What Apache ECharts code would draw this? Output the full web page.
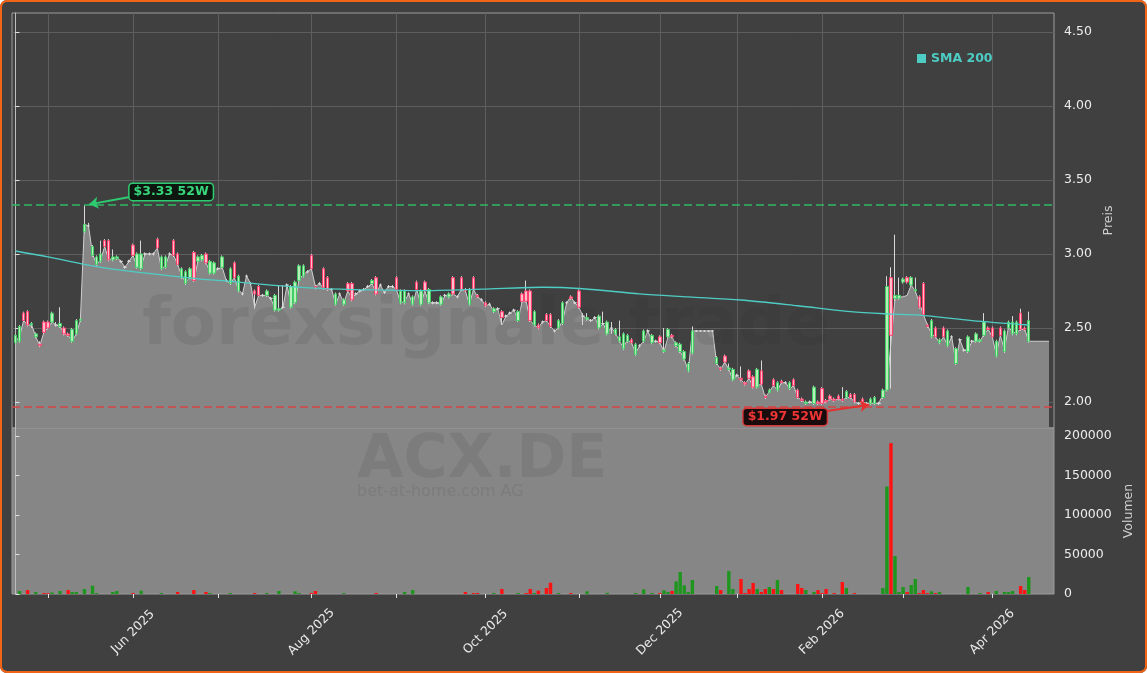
<!DOCTYPE html>
<html><head><meta charset="utf-8">
<script src="https://cdn.jsdelivr.net/npm/echarts@6/dist/echarts.min.js"></script>
<style>
html,body{margin:0;padding:0;background:#ffffff;}
#wrap{position:relative;width:1147px;height:673px;background:#404040;border-radius:7px;box-shadow:inset 0 0 0 2px #f26418;overflow:hidden}
#chart{position:absolute;left:0;top:0;width:1147px;height:673px;}
</style></head><body>
<div id="wrap"><div id="chart"></div></div>
<script>
// ---- tick positions (trading-day index) and labels ----
const MONTH_TICKS = [8,29,50,73,94,116,139,159,178,199,219,241];
const LABEL_TICKS = [29,73,116,159,199,241];
const LABELS = ['Jun 2025','Aug 2025','Oct 2025','Dec 2025','Feb 2026','Apr 2026'];
const PRICE_TICKS = [2.0,2.5,3.0,3.5,4.0,4.5];
const VOLUME_TICKS = [0,50000,100000,150000,200000];
const HIGH_52W = 3.33;
const LOW_52W = 1.97;

// ---- daily OHLC ----
const OPEN = [
2.40,2.41,2.60,2.61,2.52,2.44,2.39,2.54,2.54,2.54,
2.52,2.51,2.50,2.46,2.41,2.46,2.55,3.15,3.19,2.99,
2.93,2.95,3.09,3.09,2.96,2.97,2.95,2.91,2.95,3.06,
2.91,2.90,3.00,3.00,3.00,3.10,2.90,2.91,3.00,3.09,
3.00,2.84,2.80,2.84,3.01,2.95,2.96,3.00,2.87,2.87,
2.90,2.91,2.82,2.80,2.94,2.75,2.73,2.85,2.80,2.75,
2.78,2.72,2.72,2.70,2.62,2.62,2.64,2.79,2.64,2.67,
2.82,2.85,2.88,2.99,2.78,2.80,2.90,2.84,2.76,2.66,
2.73,2.66,2.80,2.80,2.73,2.75,2.76,2.78,2.80,2.84,
2.79,2.74,2.78,2.78,2.84,2.67,2.67,2.73,2.66,2.81,
2.66,2.81,2.67,2.67,2.67,2.66,2.72,2.71,2.84,2.71,
2.84,2.76,2.66,2.84,2.72,2.69,2.67,2.66,2.61,2.63,
2.61,2.58,2.60,2.62,2.55,2.73,2.75,2.75,2.52,2.52,
2.54,2.59,2.59,2.48,2.50,2.53,2.67,2.71,2.67,2.75,
2.58,2.56,2.55,2.57,2.50,2.53,2.46,2.50,2.46,2.41,
2.36,2.41,2.42,2.32,2.38,2.41,2.48,2.40,2.41,2.44,
2.34,2.44,2.45,2.38,2.34,2.29,2.21,2.33,2.48,2.48,
2.48,2.48,2.48,2.26,2.23,2.31,2.22,2.15,2.18,2.16,
2.13,2.21,2.17,2.10,2.21,2.04,2.065,2.15,2.08,2.14,
2.13,2.09,2.15,2.08,2.02,1.99,2.00,1.99,2.00,2.09,
2.01,2.04,2.02,2.04,2.02,2.03,2.05,2.05,1.99,2.02,
1.99,1.99,1.99,1.99,2.03,2.08,2.84,2.70,2.70,2.81,
2.84,2.79,2.75,2.71,2.80,2.52,2.44,2.50,2.40,2.50,
2.38,2.44,2.26,2.42,2.35,2.34,2.41,2.41,2.41,2.45,
2.50,2.50,2.31,2.50,2.34,2.50,2.46,2.46,2.60,2.50,
2.41];
const CLOSE = [
2.45,2.51,2.55,2.52,2.53,2.46,2.38,2.47,2.50,2.60,
2.52,2.53,2.46,2.45,2.49,2.55,2.56,3.20,3.19,3.05,
2.98,3.00,3.05,2.96,2.98,2.98,2.95,2.91,2.95,2.99,
3.00,3.00,3.00,3.00,3.00,3.04,2.98,2.98,3.00,2.99,
2.93,2.90,2.88,2.90,2.82,2.98,2.99,2.94,2.95,2.94,
2.90,2.98,2.82,2.90,2.84,2.85,2.73,2.85,2.80,2.73,
2.72,2.72,2.75,2.70,2.72,2.63,2.64,2.79,2.78,2.81,
2.92,2.92,2.88,2.90,2.77,2.80,2.77,2.76,2.76,2.73,
2.73,2.69,2.75,2.69,2.73,2.75,2.76,2.78,2.82,2.73,
2.79,2.74,2.78,2.78,2.76,2.75,2.75,2.73,2.71,2.76,
2.75,2.75,2.76,2.67,2.67,2.71,2.72,2.73,2.73,2.71,
2.76,2.75,2.76,2.76,2.71,2.69,2.65,2.66,2.63,2.63,
2.57,2.58,2.60,2.62,2.61,2.68,2.68,2.55,2.61,2.50,
2.54,2.55,2.51,2.48,2.55,2.67,2.67,2.70,2.67,2.64,
2.58,2.57,2.55,2.57,2.58,2.53,2.54,2.50,2.49,2.44,
2.46,2.45,2.40,2.39,2.38,2.48,2.48,2.45,2.41,2.40,
2.35,2.49,2.44,2.40,2.39,2.34,2.26,2.48,2.48,2.48,
2.48,2.48,2.48,2.30,2.22,2.27,2.23,2.22,2.18,2.15,
2.12,2.16,2.10,2.22,2.12,2.03,2.08,2.11,2.13,2.13,
2.13,2.13,2.11,2.03,2.01,2.00,2.00,2.10,1.99,1.99,
2.00,2.02,2.01,2.02,2.01,2.07,2.03,2.00,1.99,2.00,
1.99,2.02,2.03,1.99,2.08,2.78,2.45,2.72,2.72,2.83,
2.81,2.84,2.76,2.64,2.59,2.51,2.55,2.44,2.42,2.44,
2.48,2.44,2.36,2.42,2.35,2.44,2.41,2.46,2.42,2.54,
2.49,2.44,2.41,2.45,2.48,2.54,2.54,2.54,2.49,2.49,
2.55];
const LOW = [
2.39,2.40,2.54,2.51,2.50,2.43,2.37,2.46,2.49,2.53,
2.51,2.50,2.45,2.44,2.40,2.45,2.54,3.14,3.18,2.98,
2.92,2.94,3.04,2.95,2.95,2.96,2.94,2.90,2.94,2.98,
2.90,2.89,2.99,2.99,2.99,3.03,2.89,2.90,2.99,2.98,
2.92,2.83,2.79,2.83,2.81,2.94,2.95,2.93,2.86,2.86,
2.89,2.90,2.81,2.79,2.83,2.74,2.72,2.84,2.79,2.63,
2.71,2.71,2.71,2.69,2.61,2.61,2.63,2.78,2.63,2.66,
2.81,2.84,2.87,2.89,2.76,2.79,2.76,2.75,2.75,2.65,
2.72,2.65,2.74,2.68,2.72,2.74,2.75,2.77,2.79,2.72,
2.78,2.73,2.77,2.77,2.75,2.66,2.66,2.72,2.65,2.75,
2.65,2.74,2.66,2.66,2.66,2.65,2.71,2.70,2.72,2.70,
2.75,2.74,2.65,2.75,2.70,2.68,2.64,2.65,2.60,2.62,
2.52,2.57,2.59,2.61,2.54,2.67,2.67,2.54,2.51,2.49,
2.53,2.54,2.50,2.47,2.49,2.52,2.66,2.69,2.66,2.63,
2.52,2.55,2.54,2.56,2.49,2.52,2.45,2.46,2.45,2.40,
2.35,2.40,2.39,2.31,2.37,2.40,2.47,2.39,2.40,2.39,
2.33,2.43,2.43,2.37,2.33,2.28,2.20,2.32,2.475,2.475,
2.475,2.475,2.475,2.25,2.21,2.26,2.21,2.14,2.17,2.14,
2.11,2.15,2.09,2.09,2.11,2.02,2.06,2.10,2.07,2.12,
2.12,2.08,2.10,2.02,2.00,1.98,1.99,1.98,1.98,1.98,
1.99,2.01,2.00,2.01,2.00,2.02,2.02,1.99,1.98,1.99,
1.97,1.98,1.98,1.98,2.02,2.07,2.09,2.68,2.69,2.80,
2.80,2.78,2.74,2.63,2.58,2.50,2.43,2.43,2.39,2.43,
2.37,2.43,2.25,2.41,2.34,2.33,2.40,2.40,2.40,2.44,
2.48,2.43,2.30,2.44,2.33,2.49,2.45,2.45,2.48,2.48,
2.40];
const HIGH = [
2.46,2.52,2.61,2.62,2.54,2.47,2.41,2.55,2.55,2.61,
2.54,2.64,2.51,2.47,2.50,2.56,2.57,3.33,3.21,3.06,
2.99,3.09,3.10,3.10,3.03,2.99,2.96,2.92,2.96,3.07,
3.01,3.09,3.01,3.01,3.01,3.11,2.99,2.99,3.01,3.10,
3.01,2.91,2.89,2.91,3.02,2.99,3.00,3.01,2.96,2.95,
2.91,2.99,2.83,2.91,2.95,2.86,2.74,2.86,2.81,2.76,
2.79,2.73,2.76,2.71,2.73,2.79,2.79,2.80,2.79,2.82,
2.93,2.93,2.89,3.00,2.79,2.81,2.91,2.85,2.77,2.74,
2.74,2.70,2.81,2.81,2.74,2.76,2.77,2.79,2.83,2.85,
2.80,2.75,2.79,2.79,2.85,2.76,2.76,2.74,2.72,2.82,
2.76,2.82,2.77,2.68,2.68,2.72,2.73,2.74,2.85,2.72,
2.85,2.77,2.77,2.85,2.73,2.70,2.68,2.67,2.64,2.64,
2.62,2.59,2.61,2.63,2.62,2.74,2.82,2.76,2.62,2.53,
2.55,2.60,2.60,2.49,2.56,2.68,2.68,2.72,2.68,2.76,
2.60,2.60,2.56,2.58,2.59,2.61,2.55,2.54,2.50,2.55,
2.47,2.46,2.43,2.40,2.39,2.49,2.49,2.46,2.42,2.45,
2.50,2.50,2.46,2.41,2.40,2.35,2.27,2.51,2.485,2.485,
2.485,2.485,2.485,2.31,2.24,2.32,2.26,2.23,2.19,2.24,
2.14,2.22,2.18,2.23,2.28,2.05,2.09,2.16,2.14,2.15,
2.14,2.14,2.16,2.09,2.03,2.01,2.01,2.11,2.01,2.10,
2.02,2.05,2.03,2.05,2.10,2.08,2.06,2.06,2.00,2.03,
2.00,2.03,2.04,2.00,2.09,2.85,2.91,3.13,2.84,2.84,
2.85,2.85,2.84,2.72,2.81,2.53,2.56,2.51,2.43,2.51,
2.49,2.45,2.37,2.43,2.36,2.45,2.42,2.47,2.43,2.60,
2.51,2.51,2.42,2.51,2.49,2.55,2.58,2.55,2.63,2.51,
2.61];
// ---- shaded price line (area) ----
const AREA = [
2.41,2.44,2.55,2.52,2.52,2.44,2.38,2.47,2.50,2.54,
2.52,2.51,2.46,2.45,2.41,2.46,2.55,3.20,3.19,3.00,
2.93,2.96,3.05,2.96,2.97,2.98,2.95,2.91,2.95,2.99,
2.91,2.92,3.00,3.00,3.00,3.04,2.90,2.92,3.00,2.99,
2.93,2.85,2.81,2.84,2.82,2.95,2.97,2.94,2.88,2.88,
2.90,2.91,2.82,2.80,2.84,2.76,2.73,2.85,2.80,2.64,
2.72,2.72,2.72,2.70,2.63,2.62,2.64,2.79,2.65,2.68,
2.83,2.86,2.88,2.90,2.78,2.80,2.77,2.76,2.76,2.66,
2.73,2.67,2.75,2.70,2.73,2.75,2.76,2.78,2.80,2.73,
2.79,2.74,2.78,2.78,2.76,2.67,2.68,2.73,2.66,2.76,
2.66,2.75,2.67,2.67,2.67,2.66,2.72,2.71,2.73,2.71,
2.76,2.75,2.66,2.76,2.71,2.69,2.65,2.66,2.61,2.63,
2.52,2.58,2.60,2.62,2.55,2.68,2.68,2.55,2.52,2.50,
2.54,2.55,2.51,2.48,2.50,2.55,2.67,2.71,2.67,2.64,
2.58,2.56,2.55,2.57,2.50,2.53,2.47,2.50,2.47,2.41,
2.37,2.42,2.40,2.33,2.38,2.41,2.48,2.41,2.41,2.40,
2.34,2.44,2.44,2.38,2.34,2.29,2.21,2.48,2.48,2.48,
2.48,2.48,2.48,2.26,2.22,2.27,2.22,2.15,2.18,2.15,
2.12,2.16,2.10,2.11,2.12,2.03,2.07,2.11,2.08,2.13,
2.13,2.09,2.11,2.03,2.01,1.99,2.00,1.99,1.99,1.99,
2.00,2.02,2.01,2.02,2.01,2.03,2.03,2.00,1.99,2.00,
1.99,1.99,1.99,1.99,2.05,2.10,2.40,2.70,2.71,2.71,
2.72,2.79,2.75,2.67,2.59,2.52,2.46,2.44,2.40,2.44,
2.38,2.44,2.27,2.42,2.35,2.35,2.41,2.41,2.41,2.46,
2.49,2.44,2.32,2.45,2.35,2.51,2.47,2.47,2.49,2.49,
2.41,2.41,2.41,2.41,2.41,2.41];
// ---- daily volume ----
const VOLUME = [
0,3800,0,5000,0,2500,0,1200,1000,2000,
0,3800,0,5000,2500,2500,0,6300,0,10500,
1200,0,0,0,2500,3800,0,0,0,1200,
0,4200,0,0,0,0,1200,0,0,0,
2500,0,0,0,5000,0,0,2500,1200,0,
0,0,0,1200,0,0,0,0,0,1200,
0,0,1200,0,0,3800,0,0,0,3400,
1200,0,0,1200,3800,0,0,0,0,0,
0,1200,0,0,0,0,0,0,0,1200,
0,0,0,0,0,0,2500,0,5000,0,
0,0,0,0,0,0,0,0,0,0,
0,2500,0,1200,1200,0,0,0,1200,0,
6300,0,0,0,1200,0,1200,6300,1200,4200,
0,7600,14300,0,1200,0,0,1200,0,0,
0,3400,0,0,0,0,1500,0,0,0,
0,0,0,1200,0,5900,0,1200,0,1200,
4600,2500,3800,16000,27800,11000,2500,17700,0,0,
0,0,0,10100,5000,0,29000,6300,0,19000,
1200,6300,14000,6300,2500,6300,8900,6300,17700,5000,
0,0,0,12700,7600,5000,0,2500,5000,1200,
6300,0,1200,0,15200,7600,0,1200,0,0,
0,0,0,0,7600,136000,191000,48000,2500,8900,
2500,11400,19000,1200,5000,1200,3400,1200,2500,0,
0,0,0,0,0,8900,0,0,1200,0,
2500,0,3800,0,2500,2500,3800,0,10100,5000,
21500,0,0,0,0,0];
// ---- SMA 200 read at selected days ----
const SMA_DAYS = [0,8,16,24,35,45,51,63,75,88,100,115,130,140,154,166,179,193,206,215,223,236,250];
const SMA_VALUES = [3.02,2.98,2.935,2.898,2.862,2.832,2.82,2.79,2.768,2.757,2.752,2.762,2.775,2.765,2.73,2.71,2.689,2.65,2.61,2.595,2.587,2.55,2.52];

const FONT = 'DejaVu Sans';
const X_MIN = -0.864, X_MAX = 256.23;

const candleData = OPEN.map((o,i)=>[i,o,CLOSE[i],LOW[i],HIGH[i]]);
const bodyData = OPEN.map((o,i)=>[i,o,CLOSE[i],Math.min(o,CLOSE[i]),Math.max(o,CLOSE[i])]);
const areaData = AREA.map((v,i)=>[i,v]);
const smaData = SMA_DAYS.map((d,k)=>[d,SMA_VALUES[k]]);
const volData = [];
VOLUME.forEach((v,i)=>{ if(v>0){ const up = CLOSE[i]>=OPEN[i]; volData.push({value:[i,v], itemStyle:{color: up?'#1e961e':'#ff1212'}}); }});

const chart = echarts.init(document.getElementById('chart'), null, {renderer:'canvas'});
chart.setOption({
  backgroundColor:'transparent',
  animation:false,
  textStyle:{fontFamily:FONT},
  legend:{data:['SMA 200'], left:912, top:47, icon:'rect', itemWidth:9, itemHeight:9, itemGap:5,
    textStyle:{color:'#4ecdc4', fontWeight:'bold', fontSize:12.5, fontFamily:FONT}},
  grid:[
    {left:12, width:1042, top:13, height:415, show:true, backgroundColor:'transparent', borderColor:'#9c9c9c', borderWidth:1},
    {left:12, width:1042, top:428, height:166, show:true, backgroundColor:'#868686', borderColor:'#9c9c9c', borderWidth:1}
  ],
  xAxis:[
    {type:'value', gridIndex:0, min:X_MIN, max:X_MAX, axisLine:{show:false},
     axisTick:{show:false, customValues:MONTH_TICKS}, axisLabel:{show:false, customValues:MONTH_TICKS},
     splitLine:{show:true, lineStyle:{color:'#5e5e5e', width:1}}},
    {type:'value', gridIndex:1, min:X_MIN, max:X_MAX, axisLine:{show:false},
     axisTick:{show:true, length:4, customValues:MONTH_TICKS, lineStyle:{color:'#e0e0e0'}},
     axisLabel:{customValues:LABEL_TICKS, rotate:45, align:'center', verticalAlign:'middle', margin:38,
       color:'#e8e8e8', fontSize:12.5, fontFamily:FONT,
       formatter:(v)=>{const k=LABEL_TICKS.indexOf(Math.round(v)); return k>=0?LABELS[k]:'';}},
     splitLine:{show:false}}
  ],
  yAxis:[
    {type:'value', gridIndex:0, position:'right', min:1.824, max:4.628,
     axisLine:{show:true, lineStyle:{color:'#bdbdbd'}},
     axisTick:{show:true, length:4, customValues:PRICE_TICKS, lineStyle:{color:'#e0e0e0'}},
     axisLabel:{customValues:PRICE_TICKS, margin:10, color:'#ececec', fontSize:12.5, fontFamily:FONT, formatter:(v)=>v.toFixed(2)},
     splitLine:{show:true, lineStyle:{color:'#5e5e5e', width:1}},
     name:'Preis', nameLocation:'middle', nameRotate:90, nameGap:48,
     nameTextStyle:{color:'#d0d0d0', fontSize:12.5, fontFamily:FONT}},
    {type:'value', gridIndex:1, position:'right', min:0, max:210127,
     axisLine:{show:true, lineStyle:{color:'#bdbdbd'}},
     axisTick:{show:true, length:4, customValues:VOLUME_TICKS, lineStyle:{color:'#e0e0e0'}},
     axisLabel:{customValues:VOLUME_TICKS, margin:10, color:'#ececec', fontSize:12.5, fontFamily:FONT, formatter:(v)=>String(Math.round(v))},
     splitLine:{show:false},
     name:'Volumen', nameLocation:'middle', nameRotate:90, nameGap:64,
     nameTextStyle:{color:'#d0d0d0', fontSize:12.5, fontFamily:FONT}}
  ],
  graphic:[
    {type:'text', z:1, silent:true, style:{x:486, y:327, text:'forexsignale.trade', textAlign:'center', textVerticalAlign:'middle',
      font:'bold 66px "DejaVu Sans"', fill:'rgba(40,40,40,0.10)'}},
    {type:'text', z:1, silent:true, style:{x:357, y:461, text:'ACX.DE', textAlign:'left', textVerticalAlign:'middle',
      font:'bold 60px "DejaVu Sans"', fill:'rgba(40,40,40,0.10)'}},
    {type:'text', z:1, silent:true, style:{x:357, y:492, text:'bet-at-home.com AG', textAlign:'left', textVerticalAlign:'middle',
      font:'16px "DejaVu Sans"', fill:'rgba(40,40,40,0.10)'}}
  ],
  series:[
    {name:'Kurs', type:'line', xAxisIndex:0, yAxisIndex:0, data:areaData, symbol:'none', z:0,
     lineStyle:{color:'#cfcfcf', width:1}, areaStyle:{color:'#868686', opacity:1, origin:'start'},
     markPoint:{silent:true, symbol:'rect', symbolSize:1, itemStyle:{color:'rgba(0,0,0,0)'},
       data:[
         {coord:[38.4,3.419], label:{show:true, position:'inside', formatter:'$3.33 52W', color:'#38d77c', fontWeight:'bold', fontSize:12.5, fontFamily:FONT,
           backgroundColor:'#0d1710', borderColor:'#2ecc71', borderWidth:1.5, borderRadius:3, padding:[2,4,1,4]}},
         {coord:[189.9,1.899], label:{show:true, position:'inside', formatter:'$1.97 52W', color:'#ee3535', fontWeight:'bold', fontSize:12.5, fontFamily:FONT,
           backgroundColor:'#1a0c0c', borderColor:'#d63a3a', borderWidth:1.5, borderRadius:3, padding:[2,4,1,4]}}
       ]}},
    {name:'52W lines', type:'line', xAxisIndex:0, yAxisIndex:0, data:[], z:6,
     markLine:{silent:true, label:{show:false}, symbolSize:9,
       data:[
         [{coord:[X_MIN,HIGH_52W], symbol:'none', lineStyle:{color:'#2fb866', type:[8,4], width:1.6}},{coord:[X_MAX,HIGH_52W], symbol:'none'}],
         [{coord:[X_MIN,LOW_52W], symbol:'none', lineStyle:{color:'#d84444', type:[8,4], width:1.6}},{coord:[X_MAX,LOW_52W], symbol:'none'}],
         [{coord:[28.2,3.385], symbol:'none', lineStyle:{color:'#2ecc71', width:2, type:'solid'}},{coord:[18.2,3.335], symbol:'arrow'}],
         [{coord:[200.2,1.939], symbol:'none', lineStyle:{color:'#e53030', width:2, type:'solid'}},{coord:[210.6,1.981], symbol:'arrow'}]
       ]}},
    {name:'Wick', type:'candlestick', xAxisIndex:0, yAxisIndex:0, data:candleData, encode:{x:0, y:[1,2,3,4]}, barWidth:1, z:3,
     itemStyle:{color:'rgba(0,0,0,0)', color0:'rgba(0,0,0,0)', borderColor:'#d8d8d8', borderColor0:'#d8d8d8', borderColorDoji:'#d8d8d8', borderWidth:1}},
    {name:'Body', type:'candlestick', xAxisIndex:0, yAxisIndex:0, data:bodyData, encode:{x:0, y:[1,2,3,4]}, barWidth:3, z:4,
     itemStyle:{color:'#b8eeb8', color0:'#ffbccb', borderColor:'#3fcf66', borderColor0:'#ff3f6c', borderColorDoji:'#d8d8d8', borderWidth:1}},
    {name:'SMA 200', type:'line', xAxisIndex:0, yAxisIndex:0, data:smaData, symbol:'none', smooth:0.3, z:5,
     color:'#4ecdc4', lineStyle:{color:'#4ecdc4', width:1.3}},
    {name:'Volumen', type:'bar', xAxisIndex:1, yAxisIndex:1, data:volData, barWidth:3.4, z:2}
  ]
});
</script></body></html>
